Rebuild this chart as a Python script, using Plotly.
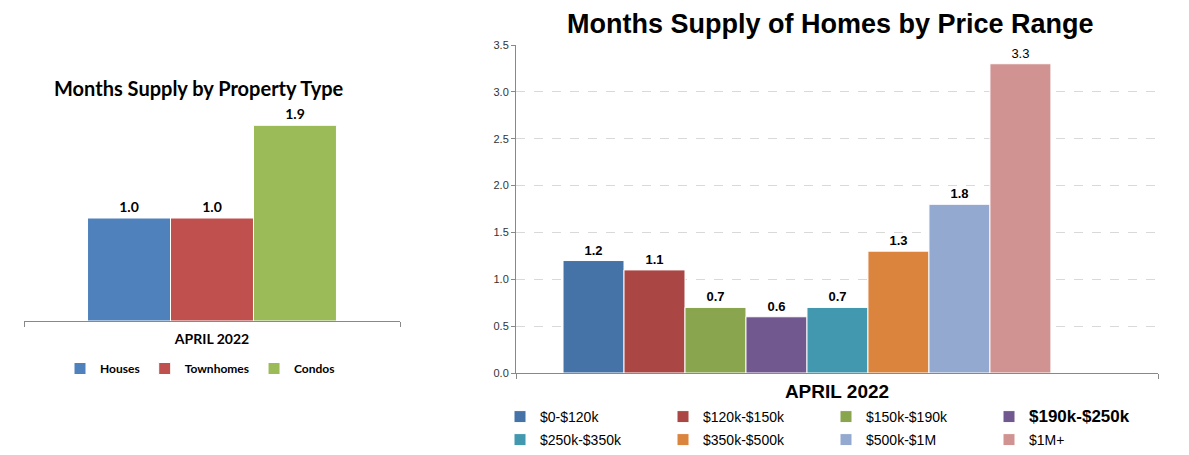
import plotly.graph_objects as go

# ---- data ----
period = "APRIL 2022"
prop_types = ["Houses", "Townhomes", "Condos"]
prop_values = [1.0, 1.0, 1.9]
prop_colors = ["#4F81BD", "#C0504D", "#9BBB59"]

price_ranges = ["$0-$120k", "$120k-$150k", "$150k-$190k", "$190k-$250k",
                "$250k-$350k", "$350k-$500k", "$500k-$1M", "$1M+"]
price_values = [1.2, 1.1, 0.7, 0.6, 0.7, 1.3, 1.8, 3.3]
price_colors = ["#4572A7", "#AA4643", "#89A54E", "#71588F",
                "#4198AF", "#DB843D", "#93A9CF", "#D19392"]
y_ticks = [0.0, 0.5, 1.0, 1.5, 2.0, 2.5, 3.0, 3.5]

W, H = 1189, 455
LF = "Lato, Open Sans, sans-serif"
NF = "Liberation Sans Narrow, Arial Narrow, Liberation Sans, Arial, sans-serif"

def px_x(p):
    return p / W

def px_y(p):
    return 1 - p / H

fig = go.Figure()

for name, v, c in zip(prop_types, prop_values, prop_colors):
    fig.add_trace(go.Bar(
        x=[0], y=[v], name=name, marker=dict(color=c, line=dict(color="white", width=1)),
        text=[f"{v:.1f}"], textposition="outside", cliponaxis=False,
        textfont=dict(family=LF, size=14, color="black", weight="bold"),
        xaxis="x", yaxis="y", legend="legend", hoverinfo="skip"))

for i, (name, v, c) in enumerate(zip(price_ranges, price_values, price_colors)):
    label = f"<b>{v:.1f}</b>" if v < 3 else f"{v:.1f}"
    legname = name if name != "$190k-$250k" else "<span style='font-size:17px'><b>" + name + "</b></span>"
    fig.add_trace(go.Bar(
        x=[0], y=[v], name=legname, marker=dict(color=c, line=dict(color="white", width=1)),
        text=[label], textposition="outside", cliponaxis=False,
        textfont=dict(family=NF, size=13, color="black"),
        xaxis="x2", yaxis="y2", legend="legend2" if i < 4 else "legend3", hoverinfo="skip"))

# left axes
lx0, lx1 = -0.5, 0.5
fig.update_layout(
    xaxis=dict(domain=[px_x(24), px_x(400)], range=[lx0, lx1], tickvals=[lx0, lx1],
               showticklabels=False, ticks="outside", ticklen=5, tickcolor="#888",
               showline=True, linecolor="#888", linewidth=1, showgrid=False, zeroline=False,
               title=dict(text="<b>" + period + "</b>", font=dict(family=LF, size=14, color="black"),
                          standoff=8)),
    yaxis=dict(domain=[px_y(321), px_y(115)], range=[0, 2], visible=False),
)

# right axes
rx0, rx1 = -0.3948, 0.4763
fig.update_layout(
    xaxis2=dict(domain=[px_x(516), px_x(1158)], range=[rx0, rx1], tickvals=[rx0, rx1],
                anchor="y2", showticklabels=False, ticks="outside", ticklen=5, tickcolor="#888",
                showline=True, linecolor="#888", linewidth=1, showgrid=False, zeroline=False,
                title=dict(text="<b>" + period + "</b>", font=dict(family=NF, size=19, color="black"),
                           standoff=6)),
    yaxis2=dict(domain=[px_y(373), px_y(45)], range=[0, 3.5], anchor="x2",
                tickvals=y_ticks, ticktext=[f"{t:.1f}" for t in y_ticks],
                tickfont=dict(family=NF, size=11, color="#333"),
                ticks="outside", ticklen=4, tickcolor="#888",
                showline=True, linecolor="#888", linewidth=1,
                showgrid=True, gridcolor="#d9d9d9", griddash="dash", gridwidth=1,
                zeroline=False),
)

leg_common = dict(orientation="h", xanchor="left", yanchor="top",
                  font=dict(family=NF, size=14, color="black"),
                  entrywidth=118, entrywidthmode="pixels", itemwidth=30,
                  bgcolor="rgba(0,0,0,0)", traceorder="normal")

fig.update_layout(
    width=W, height=H, margin=dict(l=0, r=0, t=0, b=0, autoexpand=False),
    paper_bgcolor="white", plot_bgcolor="white",
    barmode="group", bargap=0.338, bargroupgap=0,
    showlegend=True,
    legend=dict(orientation="h", x=px_x(60), y=px_y(354), xanchor="left", yanchor="top",
                font=dict(family=LF, size=12, color="black", weight="bold"),
                itemwidth=30, tracegroupgap=0, bgcolor="rgba(0,0,0,0)", traceorder="normal"),
    legend2=dict(x=px_x(500), y=px_y(401), **leg_common),
    legend3=dict(x=px_x(500), y=px_y(424), **leg_common),
    annotations=[
        dict(text="<b>Months Supply by Property Type</b>", x=px_x(199), y=px_y(88),
             xref="paper", yref="paper", showarrow=False, xanchor="center", yanchor="middle",
             font=dict(family=LF, size=20, color="black")),
        dict(text="<b>Months Supply of Homes by Price Range</b>", x=px_x(830), y=px_y(24),
             xref="paper", yref="paper", showarrow=False, xanchor="center", yanchor="middle",
             font=dict(family=NF, size=27, color="black")),
    ],
)

fig.write_html("out.html")
